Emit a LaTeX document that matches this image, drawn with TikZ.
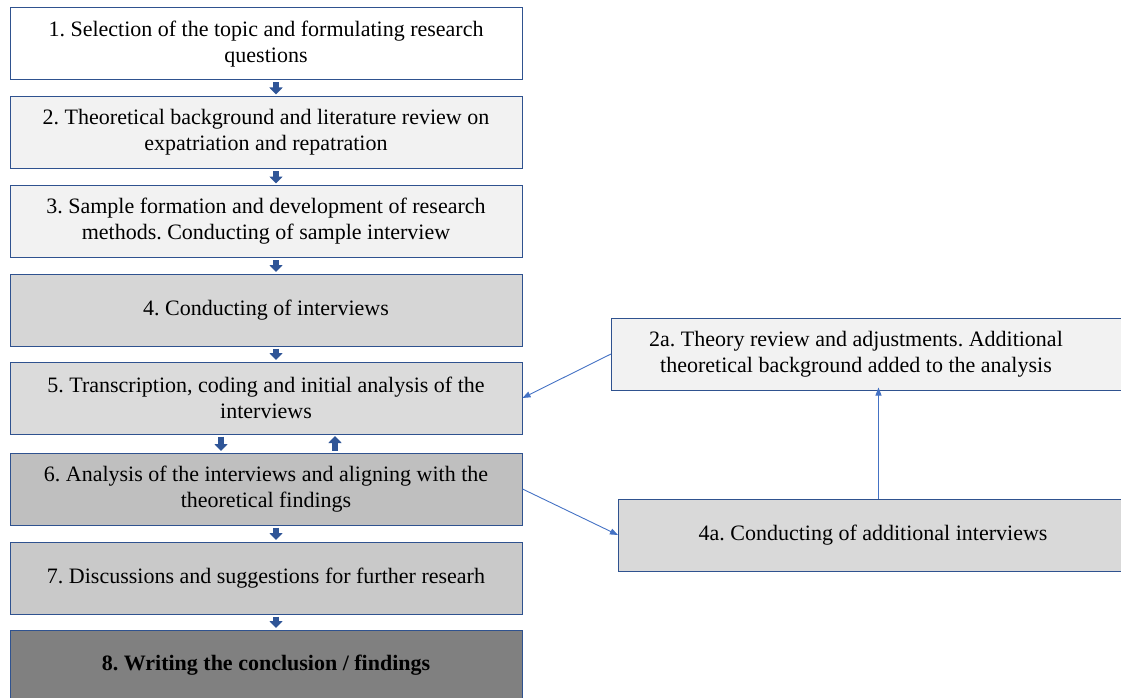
\documentclass[tikz,border=0pt]{standalone}
\usepackage{fontspec}
\setmainfont{Liberation Serif}
\usetikzlibrary{arrows.meta,positioning}

\definecolor{edgeblue}{HTML}{2F528F}
\definecolor{flowblue}{HTML}{2F5597}
\definecolor{linkblue}{HTML}{4472C4}

\frenchspacing
\begin{document}
\begin{tikzpicture}[
  x=1pt, y=-1pt,
  stepbox/.style={rectangle, draw=edgeblue, line width=1pt, align=center,
                  minimum width=512pt, minimum height=72pt, inner sep=0pt,
                  font=\fontsize{22}{26}\selectfont},
  sidebox/.style={rectangle, draw=edgeblue, line width=1pt,
                  minimum width=520pt, minimum height=72pt, inner sep=0pt},
  sidetext/.style={align=center, inner sep=0pt, font=\fontsize{22}{26}\selectfont},
  flow/.style={-{Triangle[width=13pt,length=7pt]}, draw=flowblue,
               line width=5.5pt, shorten <=2pt, shorten >=1.5pt},
  link/.style={-{Triangle[width=6pt,length=8pt]}, draw=linkblue, line width=0.9pt}
]
\useasboundingbox (0,0) rectangle (1121,698);
\clip (0,0) rectangle (1121,698);

%% ---- MAIN COLUMN: research steps ----
\node[stepbox, fill=white]      (s1) at (266,44)    {1. Selection of the topic and formulating research\\questions};
\node[stepbox, fill=black!5]    (s2) at (266,132.5) {2. Theoretical background and literature review on\\expatriation and repatration};
\node[stepbox, fill=black!5]    (s3) at (266,221.5) {3. Sample formation and development of research\\methods. Conducting of sample interview};
\node[stepbox, fill=black!16]   (s4) at (266,310)   {4. Conducting of interviews};
\node[stepbox, fill=black!14]   (s5) at (266,398)   {5. Transcription, coding and initial analysis of the\\interviews};
\node[stepbox, fill=black!25]   (s6) at (266,489)   {6. Analysis of the interviews and aligning with the\\theoretical findings};
\node[stepbox, fill=black!21]   (s7) at (266,578)   {7. Discussions and suggestions for further researh};
\node[stepbox, fill=black!50, minimum height=70pt] (s8) at (266,665)
     {\bfseries 8. Writing the conclusion / findings};

\draw[flow] ([xshift=10pt]s1.south) -- ([xshift=10pt]s2.north);
\draw[flow] ([xshift=10pt]s2.south) -- ([xshift=10pt]s3.north);
\draw[flow] ([xshift=10pt]s3.south) -- ([xshift=10pt]s4.north);
\draw[flow] ([xshift=10pt]s4.south) -- ([xshift=10pt]s5.north);
\draw[flow] ([xshift=-45pt]s5.south) -- ([xshift=-45pt]s6.north);
\draw[flow] ([xshift=69pt]s6.north)  -- ([xshift=69pt]s5.south);
\draw[flow] ([xshift=10pt]s6.south) -- ([xshift=10pt]s7.north);
\draw[flow] ([xshift=10pt]s7.south) -- ([xshift=10pt]s8.north);

%% ---- SIDE LOOP: additional interviews and theory review ----
\node[sidebox, fill=black!5,  anchor=west] (s2a) at (611,354) {};
\node[sidetext] (s2atxt) at (856,354)
     {2a. Theory review and adjustments. Additional\\theoretical background added to the analysis};
\node[sidebox, fill=black!15, anchor=west] (s4a) at (618,535) {};
\node[sidetext] (s4atxt) at (873,535) {4a. Conducting of additional interviews};

\draw[link] (s6.east)  -- (s4a.west);
\draw[link] (s4a.north) -- ([yshift=3pt]s4a.north |- s2a.south);
\draw[link] (s2a.west) -- (s5.east);

\end{tikzpicture}
\end{document}
